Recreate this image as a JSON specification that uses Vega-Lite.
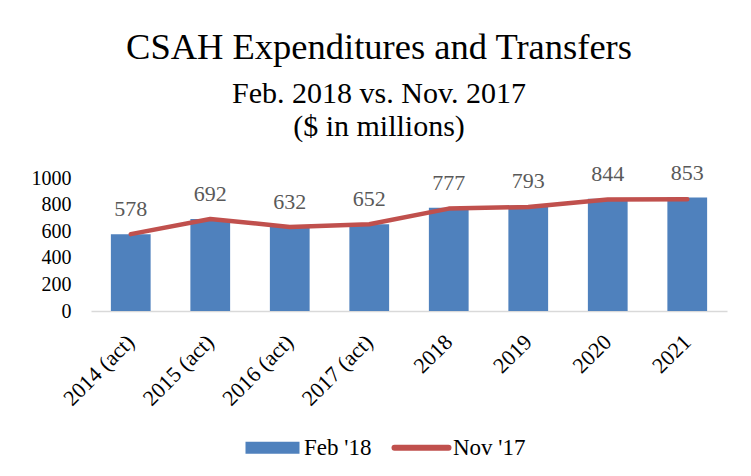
{
  "$schema": "https://vega.github.io/schema/vega-lite/v6.json",
  "width": 636,
  "height": 133,
  "padding": {"left": 31, "top": 30, "right": 23, "bottom": 10},
  "background": "white",
  "title": {
    "text": "CSAH Expenditures and Transfers",
    "subtitle": ["Feb. 2018 vs. Nov. 2017", "($ in millions)"],
    "font": "Liberation Serif",
    "fontSize": 36.5,
    "fontWeight": "normal",
    "color": "#000000",
    "subtitleFont": "Liberation Serif",
    "subtitleFontSize": 30,
    "subtitleColor": "#000000",
    "subtitleLineHeight": 33,
    "subtitlePadding": 12,
    "anchor": "middle",
    "frame": "bounds",
    "offset": 20
  },
  "data": {
    "values": [
      {"year": "2014 (act)", "feb": 578, "nov": 578},
      {"year": "2015 (act)", "feb": 692, "nov": 692},
      {"year": "2016 (act)", "feb": 632, "nov": 632},
      {"year": "2017 (act)", "feb": 652, "nov": 652},
      {"year": "2018", "feb": 777, "nov": 770},
      {"year": "2019", "feb": 793, "nov": 782},
      {"year": "2020", "feb": 844, "nov": 838},
      {"year": "2021", "feb": 853, "nov": 840}
    ]
  },
  "encoding": {
    "x": {
      "field": "year",
      "type": "nominal",
      "sort": null,
      "title": null,
      "scale": {"paddingInner": 0.5, "paddingOuter": 0.25},
      "axis": {
        "labelAngle": -45,
        "labelAlign": "right",
        "labelBaseline": "middle",
        "labelFontSize": 22,
        "labelPadding": 27,
        "ticks": false,
        "domainColor": "#D9D9D9",
        "domainWidth": 1.5,
        "grid": false
      }
    }
  },
  "layer": [
    {
      "mark": {"type": "bar", "color": "#4F81BD"},
      "encoding": {
        "y": {
          "field": "feb",
          "type": "quantitative",
          "title": null,
          "scale": {"domain": [0, 1000], "nice": false},
          "axis": {"values": [0, 200, 400, 600, 800, 1000], "format": "d"}
        },
        "color": {
          "datum": "Feb '18",
          "legend": {
            "orient": "none",
            "legendX": 170,
            "legendY": 258,
            "symbolSize": 2916,
            "encode": {
              "symbols": {
                "update": {
                  "shape": {"signal": "datum.value == \"Feb '18\" ? 'M-1,-0.22H1V0.22H-1Z' : 'stroke'"},
                  "fill": {"signal": "datum.value == \"Feb '18\" ? '#4F81BD' : 'transparent'"},
                  "stroke": {"signal": "datum.value == \"Feb '18\" ? 'transparent' : '#C0504D'"},
                  "strokeWidth": {"signal": "datum.value == \"Feb '18\" ? 0 : 6"},
                  "strokeCap": {"value": "round"},
                  "opacity": {"value": 1}
                }
              }
            }
          }
        }
      }
    },
    {
      "mark": {"type": "line", "strokeWidth": 4.5, "strokeCap": "round", "strokeJoin": "round"},
      "encoding": {
        "y": {"field": "nov", "type": "quantitative", "title": null, "axis": {"values": [0, 200, 400, 600, 800, 1000], "format": "d"}},
        "color": {"datum": "Nov '17"}
      }
    },
    {
      "mark": {"type": "text", "font": "Liberation Serif", "fontSize": 22, "color": "#595959", "baseline": "middle", "dy": -25},
      "encoding": {
        "y": {"field": "feb", "type": "quantitative", "title": null, "axis": {"values": [0, 200, 400, 600, 800, 1000], "format": "d"}},
        "text": {"field": "feb", "type": "quantitative"}
      }
    }
  ],
  "resolve": {"scale": {"color": "shared"}},
  "config": {
    "view": {"stroke": null},
    "axis": {
      "labelFont": "Liberation Serif",
      "labelColor": "#000000"
    },
    "axisY": {
      "labelFont": "Liberation Serif",
      "labelFontSize": 20,
      "labelColor": "#000000",
      "labelPadding": 20,
      "labelOverlap": false,
      "ticks": false,
      "domain": false,
      "grid": false
    },
    "legend": {
      "direction": "horizontal",
      "title": null,
      "labelFont": "Liberation Serif",
      "labelFontSize": 23,
      "labelColor": "#000000",
      "symbolSize": 2916,
      "labelOffset": 20,
      "columnPadding": 10
    },
    "range": {"category": ["#4F81BD", "#C0504D"]}
  }
}
